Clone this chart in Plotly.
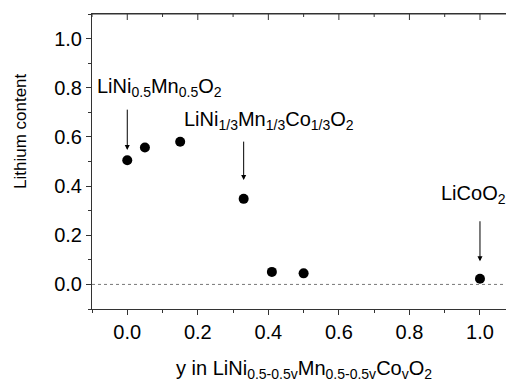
import numpy as np
import plotly.graph_objects as go

# data
y_cobalt = [0.0, 0.05, 0.15, 0.33, 0.41, 0.50, 1.0]
lithium = [0.505, 0.557, 0.58, 0.348, 0.051, 0.045, 0.023]

labels = ["LiNi<sub>0.5</sub>Mn<sub>0.5</sub>O<sub>2</sub>",
          "LiNi<sub>1/3</sub>Mn<sub>1/3</sub>Co<sub>1/3</sub>O<sub>2</sub>",
          "LiCoO<sub>2</sub>"]
label_x = [-0.092, 0.156, 0.885]
label_y = [0.80, 0.668, 0.364]
arrow_x = [0.0, 0.33, 1.0]
arrow_from = [0.717, 0.587, 0.263]
arrow_to = [0.547, 0.425, 0.094]

xrange_ = [-0.1, 1.0738]
yrange_ = [-0.1, 1.1]

FONT = "Liberation Sans, Arial, sans-serif"
AX = "#333333"

W, H = 506, 387
L, T, B, R = 92, 14, 78, 0
pw, ph = W - L - R, H - T - B

# top-axis tick positions (inward ticks, mirrored from the bottom axis)
major_top = np.round(np.arange(0, 1.01, 0.2), 2)
minor_top = np.round(np.arange(-0.1, 1.06, 0.2), 2)

fig = go.Figure()
fig.add_trace(go.Scatter(x=y_cobalt, y=lithium, mode="markers",
                         marker=dict(color="black", size=10),
                         showlegend=False, cliponaxis=False))

fig.add_hline(y=0, line=dict(color="#777777", width=1, dash="dot"))

# top frame line and inward ticks, drawn above everything
fig.add_shape(type="line", xref="paper", yref="paper", x0=0, x1=1, y0=1, y1=1,
              line=dict(color=AX, width=1), layer="above")
for pos, ln in ((major_top, 6), (minor_top, 3)):
    for p in pos:
        fig.add_shape(type="line", xref="x", yref="paper", x0=p, x1=p,
                      y0=1, y1=1 - ln / ph, line=dict(color=AX, width=1), layer="above")

for t, lx, ly in zip(labels, label_x, label_y):
    fig.add_annotation(x=lx, y=ly, xref="x", yref="y", text=t, showarrow=False,
                       xanchor="left", yanchor="middle",
                       font=dict(family=FONT, size=20, color="black"))
for axx, a0, a1 in zip(arrow_x, arrow_from, arrow_to):
    fig.add_annotation(x=axx, y=a1, ax=axx, ay=a0, xref="x", yref="y",
                       axref="x", ayref="y", text="", showarrow=True,
                       arrowhead=2, arrowsize=1, arrowwidth=1, arrowcolor="black",
                       standoff=0, startstandoff=0)

# axis titles
fig.add_annotation(x=(20 - L) / pw, y=(H - B - 131) / ph, xref="paper", yref="paper",
                   text="Lithium content", showarrow=False, textangle=-90,
                   xanchor="center", yanchor="middle",
                   font=dict(family=FONT, size=17, color="black"))
fig.add_annotation(text="y in LiNi<sub>0.5-0.5v</sub>Mn<sub>0.5-0.5v</sub>Co<sub>v</sub>O<sub>2</sub>",
                   x=(304 - L) / pw, y=0, xref="paper", yref="paper", showarrow=False,
                   xanchor="center", yanchor="top", yshift=-46,
                   font=dict(family=FONT, size=20, color="black"))

fig.update_layout(
    width=W, height=H,
    margin=dict(l=L, r=R, t=T, b=B),
    paper_bgcolor="white", plot_bgcolor="white",
    font=dict(family=FONT, size=20, color="black"),
    xaxis=dict(range=xrange_, dtick=0.2, tick0=0, tickformat=".1f",
               showline=True, mirror=True, linecolor=AX, linewidth=1,
               ticks="outside", ticklen=5, tickcolor=AX,
               minor=dict(dtick=0.1, tick0=0, ticks="outside", ticklen=3, tickcolor=AX),
               showgrid=False, zeroline=False,
               tickfont=dict(family=FONT, size=20)),
    yaxis=dict(range=yrange_, dtick=0.2, tick0=0, tickformat=".1f",
               showline=True, linecolor=AX, linewidth=1,
               ticks="outside", ticklen=5, tickcolor=AX,
               minor=dict(dtick=0.1, tick0=0, ticks="outside", ticklen=3, tickcolor=AX),
               showgrid=False, zeroline=False,
               tickfont=dict(family=FONT, size=20)),
)

fig.write_html("out.html", config={"displayModeBar": False},
               post_script="document.body.style.margin='0px';")
